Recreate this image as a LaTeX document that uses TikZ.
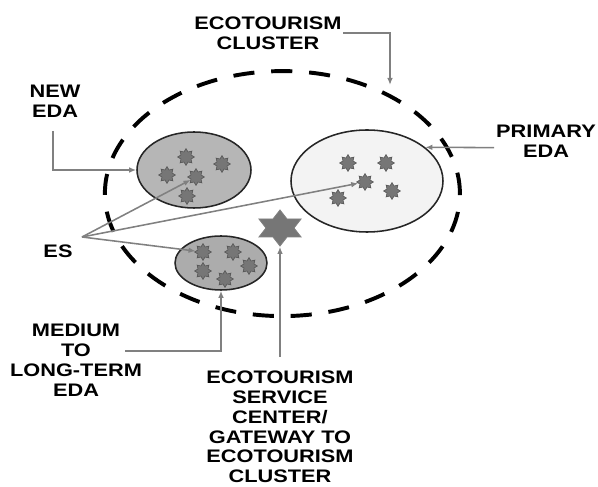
\documentclass[tikz,border=0pt]{standalone}
\usepackage{fontspec}
\newfontfamily\lblfont{Liberation Sans}[FakeStretch=1.2]
\definecolor{newgray}{RGB}{182, 182, 182}
\definecolor{medgray}{RGB}{172, 172, 172}
\definecolor{primfill}{RGB}{243, 243, 243}
\definecolor{stargray}{RGB}{118, 118, 118}
\definecolor{linegray}{RGB}{128, 128, 128}
\usetikzlibrary{shapes.geometric, arrows.meta, positioning}

\begin{document}
\begin{tikzpicture}[
  lbl/.style={font=\lblfont\bfseries\fontsize{12.9}{14.2}\selectfont, align=center, inner sep=1pt},
  eda/.style={ellipse, draw=black!85, line width=1.1pt, inner sep=0pt},
  sstar/.style={star, star points=8, star point ratio=1.55, minimum size=0.42cm, inner sep=0pt, fill=stargray, draw=stargray!70!black, line width=0.4pt},
  hubstar/.style={star, star points=6, star point ratio=1.732, minimum size=0.9cm, inner sep=0pt, fill=stargray, draw=linegray, line width=0.6pt},
  conn/.style={draw=linegray, line width=1.1pt, -{Latex[length=5pt, width=4pt]}}
]
  \useasboundingbox (0,0) rectangle (14.95,12.15);

  \node[ellipse, draw, line width=2.8pt, dash pattern=on 15pt off 12pt, minimum width=8.875cm, minimum height=6.125cm, inner sep=0pt] (clus) at (7.06,7.31) {};
  \node[eda, fill=newgray, minimum width=2.85cm, minimum height=1.9cm] (new) at (4.85,7.9) {};
  \node[eda, fill=primfill, minimum width=3.8cm, minimum height=2.55cm] (prim) at (9.175,7.625) {};
  \node[eda, fill=medgray, minimum width=2.3cm, minimum height=1.35cm] (med) at (5.525,5.575) {};

  \node[sstar] (n1) at (4.65,8.225) {};
  \node[sstar] (n2) at (5.55,8.05) {};
  \node[sstar] (n3) at (4.175,7.775) {};
  \node[sstar] (n4) at (4.9,7.725) {};
  \node[sstar] (n5) at (4.675,7.25) {};
  \node[sstar] (p1) at (8.7,8.075) {};
  \node[sstar] (p2) at (9.65,8.075) {};
  \node[sstar] (p3) at (9.125,7.6) {};
  \node[sstar] (p4) at (9.8,7.375) {};
  \node[sstar] (p5) at (8.45,7.2) {};
  \node[sstar] (m1) at (5.075,5.85) {};
  \node[sstar] (m2) at (5.825,5.85) {};
  \node[sstar] (m3) at (6.225,5.5) {};
  \node[sstar] (m4) at (5.075,5.375) {};
  \node[sstar] (m5) at (5.625,5.175) {};
  \begin{scope}[shift={(7,6.45)}, xscale=1.35]
    \node[hubstar, transform shape] (hub) at (0,0) {};
  \end{scope}

  \node[lbl] (clustxt) at (6.7,11.325) {ECOTOURISM\\CLUSTER};
  \node[lbl] (newtxt) at (1.375,9.625) {NEW\\EDA};
  \node[lbl] (primtxt) at (13.65,8.625) {PRIMARY\\EDA};
  \node[lbl] (estxt) at (1.45,5.875) {ES};
  \node[lbl] (medtxt) at (1.9,3.14) {MEDIUM\\TO\\LONG-TERM\\EDA};
  \node[lbl] (svctxt) at (7.0,1.48) {ECOTOURISM\\SERVICE\\CENTER/\\GATEWAY TO\\ECOTOURISM\\CLUSTER};

  \coordinate (clustip) at (9.75,10.025);
  \coordinate (newfoot) at (1.325,8.875);
  \coordinate (primfoot) at (12.35,8.46);
  \coordinate (fork) at (2.05,6.225);
  \coordinate (medfoot) at (3.125,3.375);
  \coordinate (svcfoot) at (7.0,3.225);

  \draw[conn] (clustxt.east) -| (clustip);
  \draw[conn] (newfoot) |- (new.west);
  \draw[conn] (primfoot) -- (prim.30);
  \draw[conn] (fork) -- (n4);
  \draw[conn] (fork) -- (p3);
  \draw[conn] (fork) -- (m1);
  \draw[conn] (medfoot) -| (med.south);
  \draw[conn] (svcfoot) -- (hub.south);
\end{tikzpicture}
\end{document}
